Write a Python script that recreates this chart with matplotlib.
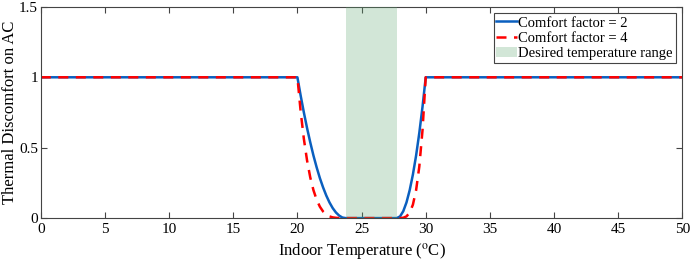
import matplotlib
matplotlib.use("Agg")
import matplotlib.pyplot as plt

plt.rcParams["font.family"] = ["Liberation Serif", "DejaVu Serif"]
plt.rcParams["mathtext.fontset"] = "stix"

# values (temperature in degC, discomfort)
temp = [0, 20, 20.25, 20.5, 20.75, 21, 21.25, 21.5, 21.75, 22, 22.25, 22.5,
        22.75, 23, 23.25, 23.5, 23.75, 27.75, 28, 28.25, 28.5, 28.75, 29,
        29.25, 29.5, 29.75, 30, 50]
disc_cf2 = [1, 1, 0.871, 0.751, 0.64, 0.538, 0.444, 0.36, 0.284, 0.218, 0.16,
            0.111, 0.071, 0.04, 0.018, 0.004, 0, 0, 0.012, 0.049, 0.111,
            0.198, 0.309, 0.444, 0.605, 0.79, 1, 1]
disc_cf4 = [1, 1, 0.759, 0.564, 0.41, 0.289, 0.198, 0.13, 0.081, 0.047, 0.026,
            0.012, 0.005, 0.002, 0.0003, 0, 0, 0, 0.0002, 0.0024, 0.012,
            0.039, 0.095, 0.198, 0.366, 0.624, 1, 1]
comfort_range = (23.75, 27.75)

xticks = list(range(0, 51, 5))
yticks = [0, 0.5, 1, 1.5]
ytick_labels = ["0", "0.5", "1", "1.5"]

fig = plt.figure(figsize=(6.92, 2.65), dpi=100)
ax = fig.add_axes([0.059, 0.177, 0.927, 0.797])

ax.plot(temp, disc_cf2, color="#0a5fbf", lw=1.8, label="Comfort factor = 2")
ax.plot(temp, disc_cf4, color="red", lw=1.8, ls=(0, (4, 3)),
        label="Comfort factor = 4")
ax.axvspan(comfort_range[0], comfort_range[1], color="#5fa870", alpha=0.28,
           lw=0, zorder=5, label="Desired temperature range")

ax.set_xlim(0, 50)
ax.set_ylim(0, 1.5)
ax.set_xticks(xticks)
ax.set_yticks(yticks)
ax.set_yticklabels(ytick_labels)
ax.tick_params(direction="in", top=True, right=True, labelsize=11,
               length=4, color="#444444")
ax.tick_params(axis="y", pad=2)
for s in ax.spines.values():
    s.set_color("#444444")
    s.set_linewidth(0.8)

ax.set_xlabel(r"Indoor Temperature ($^{\mathrm{o}}$C)", fontsize=12, labelpad=4)
ax.set_ylabel("Thermal Discomfort on AC", fontsize=12)
ax.yaxis.set_label_coords(-0.036, 0.5)

leg = ax.legend(loc="upper right", fontsize=10.5, fancybox=False, framealpha=1,
                edgecolor="#444444", borderpad=0.2, labelspacing=0.15,
                handlelength=1.4, handletextpad=0.1, borderaxespad=0.45)
leg.get_frame().set_linewidth(0.8)

fig.savefig("out.png", dpi=100)
